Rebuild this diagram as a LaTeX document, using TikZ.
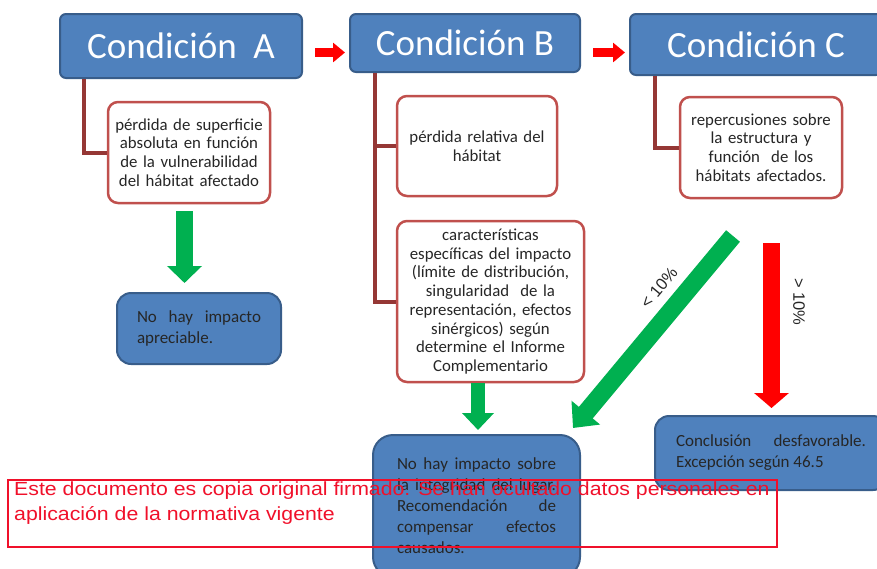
\documentclass[tikz,border=0pt]{standalone}
\usepackage{fontspec}
\setmainfont{Carlito}
\newfontfamily\arialf{Liberation Sans}
\newfontfamily\wmfont[FakeStretch=1.12]{Liberation Sans}
\usetikzlibrary{arrows.meta}
\definecolor{boxblue}{HTML}{4F81BD}
\definecolor{boxbord}{HTML}{385D8A}
\definecolor{subred}{HTML}{C0504D}
\definecolor{connred}{HTML}{953735}
\definecolor{arrgreen}{HTML}{00B050}
\definecolor{arrred}{HTML}{FF0000}
\definecolor{txtdark}{HTML}{262626}
\definecolor{wmred}{HTML}{F0102A}
\begin{document}
\begin{tikzpicture}[x=1pt,y=-1pt,
  titlebox/.style={draw=boxbord, fill=boxblue, line width=2pt, rounded corners=6pt,
    text=white, font=\fontsize{37}{40}\selectfont, inner sep=0pt},
  subbox/.style={draw=subred, fill=white, line width=2.5pt, rounded corners=10pt,
    align=center, inner sep=0pt, font=\fontsize{16.8}{18.7}\selectfont, text=txtdark},
  resbox/.style={draw=boxbord, fill=boxblue, line width=2pt, rounded corners=14pt,
    align=justify, inner sep=0pt, font=\fontsize{17}{21}\selectfont, text=txtdark},
  conn/.style={draw=connred, line width=4pt},
  bigarrow/.style n args={4}{draw=#1, line width=#2,
    -{Triangle[width=#3,length=#4]}},
  lbl/.style={font=\arialf\fontsize{16.5}{16.5}\selectfont, text=black!85, inner sep=0pt},
  wmbox/.style={draw, color=wmred, line width=1.6pt},
]
\useasboundingbox (0,0) rectangle (877,568);

% title boxes
\node[titlebox, minimum width=242pt, minimum height=64pt] (ta) at (181,46) {Condición\ \ A};
\node[titlebox, minimum width=230pt, minimum height=58pt] (tb) at (465,43) {Condición B};
\node[titlebox, minimum width=252pt, minimum height=61pt] (tc) at (756,44.5) {Condición C};

% sub boxes
\node[subbox, minimum width=162pt, minimum height=101pt, text width=158pt] (sa) at (189,152.5)
  {pérdida de superficie\\absoluta en función\\de la vulnerabilidad\\del hábitat afectado};
\node[subbox, minimum width=160pt, minimum height=100pt, text width=156pt] (sb1) at (477,146)
  {pérdida relativa del\\hábitat};
\node[subbox, minimum width=187pt, minimum height=161pt, text width=183pt] (sb2) at (490.5,301.5)
  {características\\específicas del impacto\\(límite de distribución,\\singularidad\ \ de la\\representación, efectos\\sinérgicos) según\\determine el Informe\\Complementario};
\node[subbox, minimum width=162pt, minimum height=101pt, text width=158pt] (sc) at (761,147.5)
  {repercusiones sobre\\la estructura y\\función\ \ de los\\hábitats afectados.};

% connectors
\draw[conn] (ta.south west) ++(25,0) |- (sa.west);
\draw[conn] (tb.south west) ++(26,0) coordinate (bt) |- (sb2.west);
\draw[conn] (sb1.west) -- (sb1.west -| bt);
\draw[conn] (tc.south west) ++(26,0) |- (sc.west);

% result boxes
\node[resbox, minimum width=164pt, minimum height=71pt, text width=124pt] (na) at (199,328.5)
  {No hay impacto apreciable.};
\node[resbox, minimum width=207pt, minimum height=142pt, text width=159pt, rounded corners=20pt] (nb) at (476.5,506)
  {No hay impacto sobre\linebreak la integridad del lugar.\linebreak Recomendación de\linebreak compensar efectos\linebreak causados.};
\node[resbox, minimum width=232pt, minimum height=74pt, text width=190pt] (nc) at (771,453)
  {Conclusión desfavorable.\linebreak Excepción según 46.5};

% small red arrows between conditions
\coordinate (r1s) at (315,52.5);
\coordinate (r1e) at (345,52.5);
\coordinate (r2s) at (593,52.5);
\coordinate (r2e) at (625,52.5);
\draw[bigarrow={arrred}{9pt}{19pt}{12pt}] (r1s) -- (r1e);
\draw[bigarrow={arrred}{9pt}{19pt}{12pt}] (r2s) -- (r2e);

% green arrows
\coordinate (g1s) at (184.5,211);
\coordinate (g1e) at (184.5,283);
\draw[bigarrow={arrgreen}{17pt}{34pt}{17pt}] (g1s) -- (g1e);
\coordinate (g2s) at (478,383);
\coordinate (g2e) at (478,430);
\draw[bigarrow={arrgreen}{14pt}{31pt}{17pt}] (g2s) -- (g2e);
\coordinate (g3s) at (733,236);
\coordinate (g3e) at (573,428);
\draw[bigarrow={arrgreen}{18pt}{36pt}{20pt}] (g3s) -- (g3e);

% red arrow
\coordinate (r3s) at (771.5,243);
\coordinate (r3e) at (771.5,408);
\draw[bigarrow={arrred}{17pt}{34pt}{15pt}] (r3s) -- (r3e);

% labels
\node[lbl, rotate=50] (l1) at (659,288) {< 10\%};
\node[lbl, rotate=-90] (l2) at (799,302) {> 10\%};

% watermark
\coordinate (wm1) at (8,480);
\coordinate (wm2) at (777,547);
\draw[wmbox] (wm1) rectangle (wm2);
\node[anchor=north west, inner sep=0pt, align=left, text=wmred,
  font=\wmfont\fontsize{19}{24.5}\selectfont] (wmt) at (14,482)
  {Este documento es copia original firmado. Se han ocultado datos personales en\\aplicación de la normativa vigente};
\end{tikzpicture}
\end{document}
